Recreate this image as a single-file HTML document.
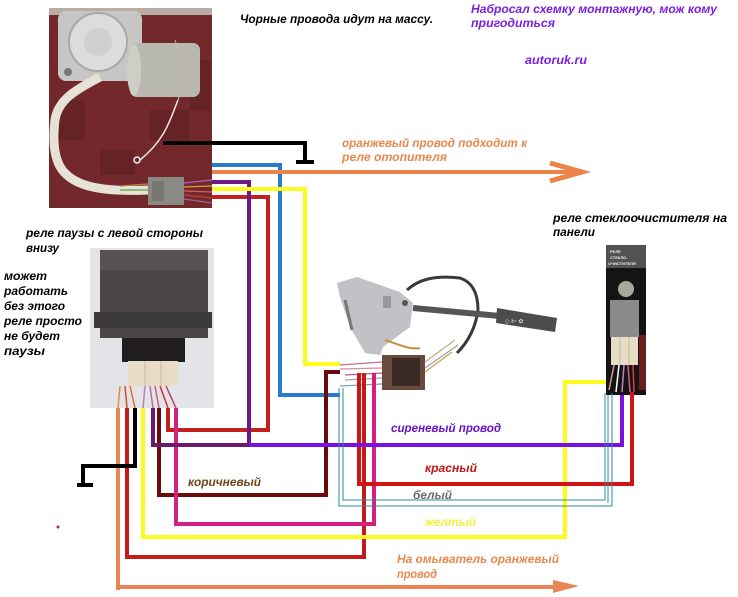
<!DOCTYPE html>
<html><head><meta charset="utf-8">
<style>
html,body{margin:0;padding:0;background:#fff;}
svg{display:block;}
text{font-family:"Liberation Sans","DejaVu Sans",sans-serif;font-weight:bold;font-style:italic;font-size:12px;}
</style></head><body>
<svg width="738" height="597" viewBox="0 0 738 597" xmlns="http://www.w3.org/2000/svg">
<rect width="738" height="597" fill="#fff"/>

<!-- ===== Motor photo ===== -->
<rect x="49" y="8" width="163" height="200" fill="#73292b"/>
<rect x="49" y="8" width="163" height="7" fill="#b9aca4"/>
<g fill="#5e2022" opacity="0.6">
  <rect x="55" y="100" width="30" height="40"/><rect x="150" y="110" width="40" height="30"/>
  <rect x="100" y="150" width="35" height="25"/><rect x="190" y="60" width="20" height="50"/>
</g>
<rect x="58" y="11" width="84" height="70" rx="8" fill="#c6c6c4"/>
<circle cx="98" cy="42" r="29" fill="#dcdcda" stroke="#a8a8a6" stroke-width="2"/>
<circle cx="98" cy="42" r="14" fill="#d0d0ce"/>
<circle cx="68" cy="72" r="4" fill="#777"/>
<rect x="130" y="43" width="70" height="54" rx="7" fill="#b9b8b0"/>
<ellipse cx="134" cy="70" rx="7" ry="26" fill="#cfcec6"/>
<path d="M100 77 C75 90 58 100 55 120 C52 145 55 165 67 175 C80 187 105 192 148 190" fill="none" stroke="#e6e2d8" stroke-width="9"/>
<path d="M178 100 C170 120 165 140 140 160" fill="none" stroke="#e8e6e0" stroke-width="1.5"/>
<circle cx="137" cy="160" r="3" fill="none" stroke="#eee" stroke-width="1.5"/>
<path d="M178 100 C185 80 182 60 175 40" fill="none" stroke="#c0b8b0" stroke-width="1"/>
<rect x="148" y="177" width="36" height="28" fill="#8a8a84"/>
<rect x="152" y="181" width="12" height="20" fill="#777770"/>
<g stroke-width="1.3">
  <path d="M184 183 L212 180" stroke="#b060c0"/>
  <path d="M184 187 L212 186" stroke="#e0a040"/>
  <path d="M184 191 L212 192" stroke="#d06060"/>
  <path d="M184 195 L212 198" stroke="#c04040"/>
  <path d="M184 199 L212 203" stroke="#a060a0"/>
  <path d="M120 186 L148 184" stroke="#c08030"/>
  <path d="M120 190 L148 190" stroke="#60a040"/>
</g>

<!-- ===== Pause relay photo ===== -->
<rect x="90" y="248" width="124" height="160" fill="#e3e3e8"/>
<rect x="100" y="250" width="108" height="88" fill="#4a4646"/>
<rect x="100" y="250" width="108" height="20" fill="#575353"/>
<rect x="94" y="312" width="118" height="16" fill="#3d3a3a"/>
<rect x="122" y="338" width="63" height="24" fill="#1f1d1d"/>
<rect x="128" y="361" width="50" height="25" fill="#e9dcc6"/>
<path d="M145 361 V386 M161 361 V386" stroke="#c8b8a0" stroke-width="1"/>
<g stroke-width="1.5">
  <path d="M120 386 L118 408" stroke="#e88a40"/>
  <path d="M125 386 L127 408" stroke="#d05030"/>
  <path d="M130 386 L135 408" stroke="#e07030"/>
  <path d="M145 386 L143 408" stroke="#c080b0"/>
  <path d="M150 386 L153 408" stroke="#b070a0"/>
  <path d="M155 386 L159 408" stroke="#c06080"/>
  <path d="M160 386 L168 408" stroke="#d03030"/>
  <path d="M166 386 L176 408" stroke="#c04060"/>
</g>

<!-- ===== Right relay photo ===== -->
<rect x="606" y="245" width="40" height="150" fill="#151414"/>
<rect x="606" y="245" width="40" height="23" fill="#525252"/>
<text x="610" y="253" fill="#eee" style="font-size:4px;font-style:normal">РЕЛЕ</text>
<text x="610" y="259" fill="#eee" style="font-size:4px;font-style:normal">СТЕКЛО-</text>
<text x="608" y="265" fill="#eee" style="font-size:4px;font-style:normal">ОЧИСТИТЕЛЯ</text>
<circle cx="626" cy="289" r="8" fill="#a9a8a0"/>
<rect x="610" y="300" width="29" height="37" fill="#8b8b8b"/>
<rect x="611" y="337" width="27" height="28" fill="#e7ddc6"/>
<path d="M620 337 V365 M629 337 V365" stroke="#bfb49a" stroke-width="1"/>
<rect x="639" y="335" width="7" height="55" fill="#6a1e22"/>
<g stroke-width="1.5">
  <path d="M614 365 L609 390" stroke="#e090a0"/>
  <path d="M619 365 L616 392" stroke="#ffffff"/>
  <path d="M624 365 L622 392" stroke="#c080c0"/>
  <path d="M628 365 L630 392" stroke="#d06080"/>
  <path d="M633 365 L634 392" stroke="#d04040"/>
</g>

<!-- ===== Steering switch photo ===== -->
<path d="M337 283 L357 277 L400 292 L413 303 L410 327 L383 347 L380 355 L365 353 L350 327 L340 297 Z" fill="#c2c2c6"/>
<path d="M345 300 L352 330" stroke="#777" stroke-width="3" fill="none"/>
<rect x="383" y="296" width="8" height="12" fill="#999"/>
<circle cx="405" cy="303" r="3" fill="#555"/>
<path d="M407 290 C418 280 433 275 460 278 C472 282 478 293 478 310 C476 325 470 340 457 353" fill="none" stroke="#3a3a3a" stroke-width="3"/>
<path d="M413 308 L500 316" stroke="#555" stroke-width="6" fill="none"/>
<path d="M497 308 L557 318 L555 332 L496 323 Z" fill="#4c4c4c"/>
<text x="505" y="323" fill="#ddd" style="font-size:6px;font-style:normal">◇ ⊢ ✿</text>
<path d="M385 340 C400 345 410 350 420 348" fill="none" stroke="#c09040" stroke-width="2"/>
<rect x="382" y="355" width="43" height="35" fill="#6a4a3c"/>
<rect x="392" y="358" width="28" height="28" fill="#3a2a24"/>
<g stroke-width="1.3" fill="none">
  <path d="M340 365 L382 362" stroke="#c07090"/>
  <path d="M340 369 L382 368" stroke="#d090a0"/>
  <path d="M345 375 L382 373" stroke="#b06080"/>
  <path d="M345 380 L382 378" stroke="#a0a0b0"/>
  <path d="M340 386 L382 384" stroke="#80a0b0"/>
  <path d="M425 362 L455 340" stroke="#c0b080"/>
  <path d="M425 368 L458 345" stroke="#a0a0a0"/>
  <path d="M425 372 L452 352" stroke="#d0a060"/>
</g>

<!-- ===== Wires ===== -->
<g fill="none" stroke-width="4" stroke-linejoin="miter">
  <!-- top black ground -->
  <path d="M163 143 H305 V161" stroke="#000"/>
  <path d="M296 162 H314" stroke="#000"/>
  <!-- blue -->
  <path d="M212 165 H280 V395 H340" stroke="#2a7bcb"/>
  <!-- orange top -->
  <path d="M212 172 H578" stroke="#ec8348"/>
  <path d="M550 163 L582 172 L550 181" stroke="#ec8348" stroke-width="5"/>
  <!-- red top -->
  <path d="M212 197 H268 V430 H168 V408" stroke="#c4201e"/>
  <!-- purple top -->
  <path d="M212 182 H249 V445" stroke="#6b1a83"/>
  <!-- yellow top -->
  <path d="M212 189 H305 V364 H340" stroke="#fbfb1e"/>

  <!-- orange bottom -->
  <path d="M118 408 V590" stroke="#ea8556"/>
  <path d="M118 587 H560" stroke="#ea8556"/>
  <!-- red bottom -->
  <path d="M127 408 V557 H364 V373" stroke="#c41a1a"/>
  <!-- black bottom ground -->
  <path d="M135 408 V466 H83 V485" stroke="#000"/>
  <path d="M77 485 H93" stroke="#000"/>
  <!-- yellow bottom -->
  <path d="M143 408 V537 H565 V382 H606" stroke="#fbfb1e"/>
  <!-- maroon -->
  <path d="M159 408 V495 H326 V372 H340" stroke="#6a0c0c"/>
  <!-- magenta -->
  <path d="M176 408 V524 H374 V373" stroke="#d4207f"/>
  <!-- red to right relay -->
  <path d="M359 373 V484 H632 V392" stroke="#d41414"/>
  <!-- purple bottom -->
  <path d="M153 408 V445 H249" stroke="#6b1a6b"/>
  <path d="M249 445 H622 V395" stroke="#7a10e6"/>
</g>
<polygon points="553,580 579,586 553,593" fill="#ea8556"/>
<!-- thin white wires -->
<g fill="none" stroke="#2a8c9a" stroke-width="1">
  <path d="M339 388 V506 H612 V393"/>
  <path d="M343 388 V500 H605 V393"/>
  <path d="M608 395 V503"/>
</g>
<circle cx="58" cy="527" r="1.5" fill="#c02060"/>

<!-- ===== Text ===== -->
<text x="240" y="23" fill="#000" textLength="193" lengthAdjust="spacingAndGlyphs">Чорные провода идут на массу.</text>
<text x="471" y="13" fill="#7a1ee0" textLength="246" lengthAdjust="spacingAndGlyphs">Набросал схемку монтажную, мож кому</text>
<text x="471" y="27" fill="#7a1ee0" textLength="84" lengthAdjust="spacingAndGlyphs">пригодиться</text>
<text x="525" y="64" fill="#7a1ee0" textLength="62" lengthAdjust="spacingAndGlyphs">autoruk.ru</text>
<text x="342" y="147" fill="#e8874e" textLength="185" lengthAdjust="spacingAndGlyphs">оранжевый провод подходит к</text>
<text x="342" y="161" fill="#e8874e" textLength="105" lengthAdjust="spacingAndGlyphs">реле отопителя</text>
<text x="553" y="222" fill="#000" textLength="174" lengthAdjust="spacingAndGlyphs">реле стеклоочистителя на</text>
<text x="553" y="236" fill="#000" textLength="42" lengthAdjust="spacingAndGlyphs">панели</text>
<text x="26" y="237" fill="#000" textLength="177" lengthAdjust="spacingAndGlyphs">реле паузы с левой стороны</text>
<text x="26" y="252" fill="#000" textLength="33" lengthAdjust="spacingAndGlyphs">внизу</text>
<text x="4" y="280" fill="#000" textLength="43" lengthAdjust="spacingAndGlyphs">может</text>
<text x="4" y="295" fill="#000" textLength="64" lengthAdjust="spacingAndGlyphs">работать</text>
<text x="4" y="310" fill="#000" textLength="61" lengthAdjust="spacingAndGlyphs">без этого</text>
<text x="4" y="325" fill="#000" textLength="78" lengthAdjust="spacingAndGlyphs">реле просто</text>
<text x="4" y="340" fill="#000" textLength="56" lengthAdjust="spacingAndGlyphs">не будет</text>
<text x="4" y="355" fill="#000" textLength="41" lengthAdjust="spacingAndGlyphs">паузы</text>
<text x="391" y="432" fill="#6612c8" textLength="110" lengthAdjust="spacingAndGlyphs">сиреневый провод</text>
<text x="425" y="472" fill="#c41414" textLength="52" lengthAdjust="spacingAndGlyphs">красный</text>
<text x="413" y="499" fill="#6a6a72" textLength="39" lengthAdjust="spacingAndGlyphs">белый</text>
<text x="425" y="526" fill="#f4f040" textLength="51" lengthAdjust="spacingAndGlyphs">желтый</text>
<text x="188" y="486" fill="#6a4818" textLength="73" lengthAdjust="spacingAndGlyphs">коричневый</text>
<text x="397" y="563" fill="#e8874e" textLength="162" lengthAdjust="spacingAndGlyphs">На омыватель оранжевый</text>
<text x="397" y="578" fill="#e8874e" textLength="40" lengthAdjust="spacingAndGlyphs">провод</text>
</svg>
</body></html>
